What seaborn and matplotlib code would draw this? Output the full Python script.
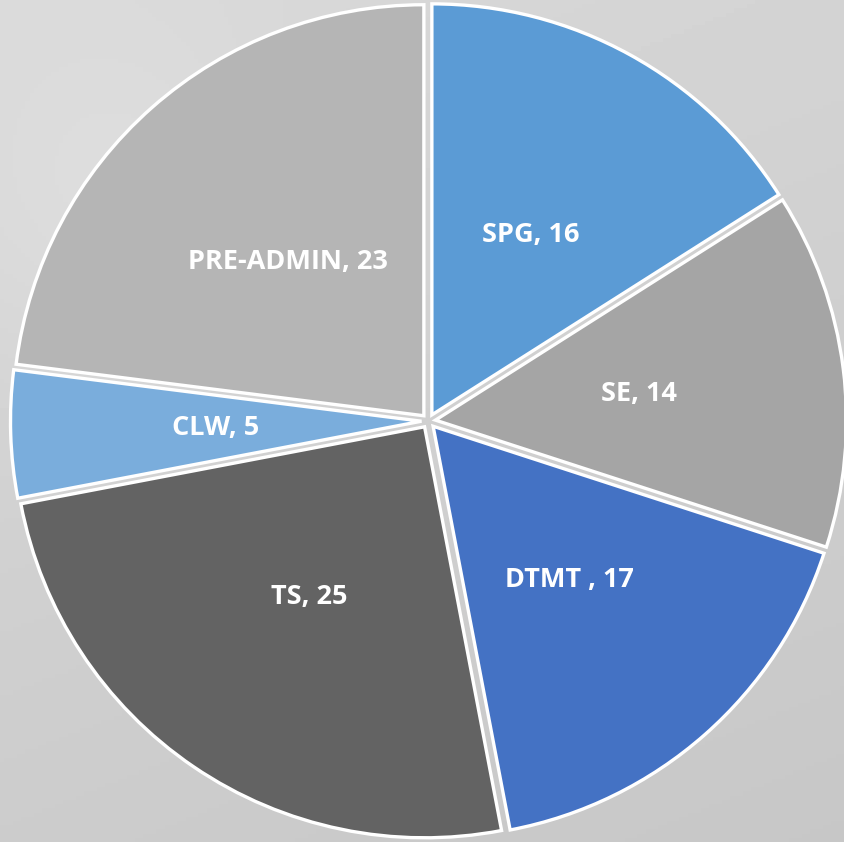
import numpy as np
import matplotlib
matplotlib.use("Agg")
import matplotlib.pyplot as plt
import seaborn as sns

# data
labels = ["SPG", "SE", "DTMT ", "TS", "CLW", "PRE-ADMIN"]
values = [16, 14, 17, 25, 5, 23]
colors = ["#5B9BD5", "#A5A5A5", "#4472C4", "#636363", "#7AADDC", "#B5B5B5"]

sns.set_theme(style="white")
plt.rcParams['font.family'] = ['Open Sans', 'DejaVu Sans']

fig = plt.figure(figsize=(8.44, 8.42), dpi=100)

# grey gradient background
bg = fig.add_axes([0, 0, 1, 1])
yy, xx = np.mgrid[0:1:200j, 0:1:200j]
shade = 0.80 + 0.05 * (1 - yy) - 0.02 * xx + 0.03 * np.exp(-((xx - 0.15) ** 2 + (yy - 0.25) ** 2) / 0.05)
bg.imshow(shade, cmap="gray", vmin=0, vmax=1, extent=[0, 1, 0, 1], aspect="auto", origin="upper")
bg.axis("off")

ax = fig.add_axes([0, 0, 1, 1])
wedges, texts = ax.pie(
    values,
    labels=[f"{l}, {v}" for l, v in zip(labels, values)],
    colors=colors,
    startangle=90,
    counterclock=False,
    explode=[7] * len(values),  # offset in data units (pixels here)
    radius=411,
    center=(428.5, 421),
    labeldistance=0.5,
    wedgeprops=dict(edgecolor="white", linewidth=2.4),
    textprops=dict(color="white", fontsize=19.5, fontweight="bold"),
    frame=True,
)
for t in texts:
    t.set_ha("center")
    t.set_va("center")
ax.set_xlim(0, 844)
ax.set_ylim(0, 842)
ax.set_aspect("equal")
ax.axis("off")

fig.savefig("out.png", dpi=100)
